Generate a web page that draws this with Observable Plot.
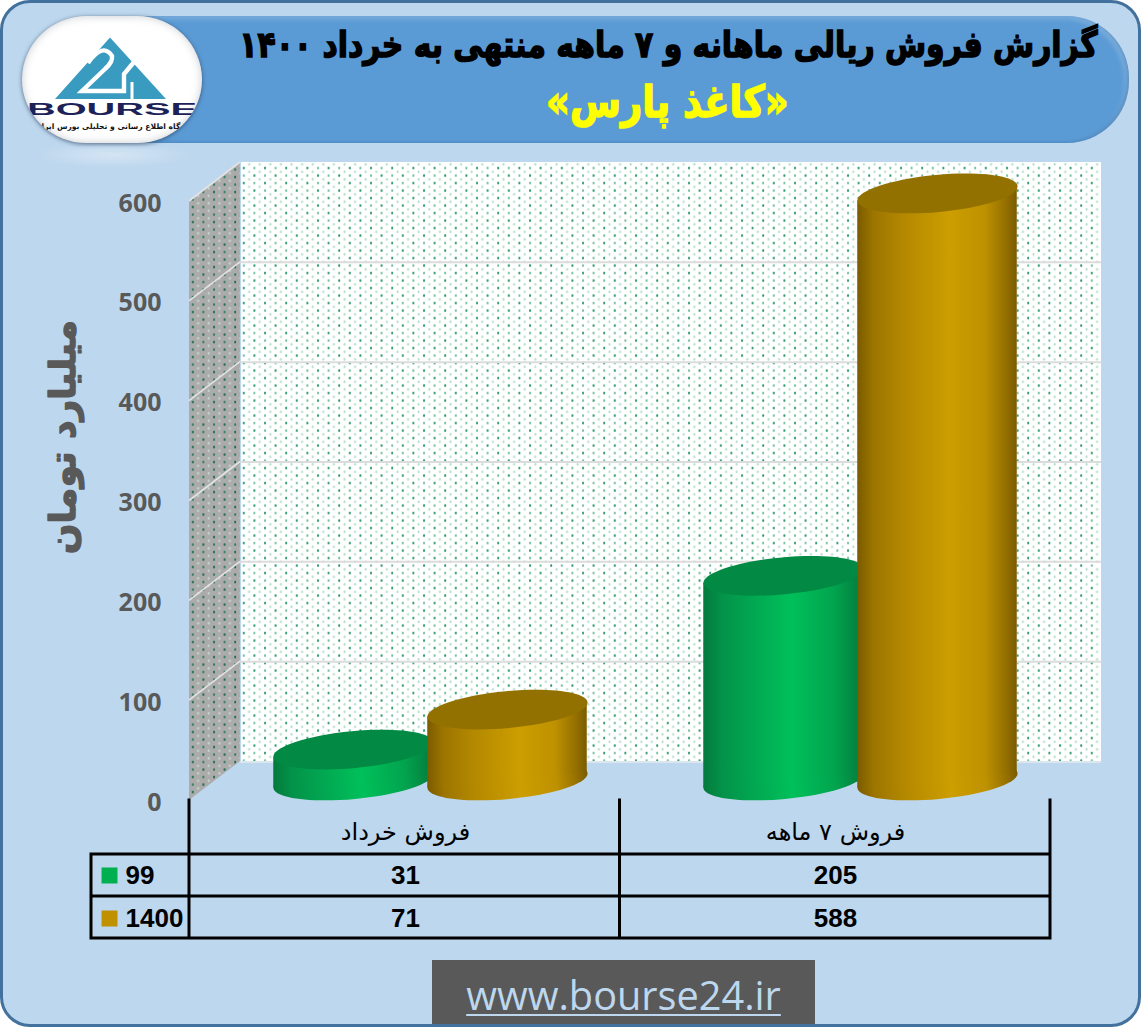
<!DOCTYPE html>
<html lang="fa">
<head>
<meta charset="utf-8">
<script src="https://cdn.jsdelivr.net/npm/d3@7"></script>
<script src="https://cdn.jsdelivr.net/npm/@observablehq/plot@0.6"></script>
<style>
html,body{margin:0;padding:0;background:#fff;}
#page{position:relative;width:1141px;height:1027px;box-sizing:border-box;background:#BDD7EE;border:3px solid #41719C;border-radius:30px;overflow:hidden;}
#band{position:absolute;left:100px;top:13px;width:1026px;height:127px;background:#5B9BD5;border-radius:0 62px 62px 0;box-shadow:inset -2px -1px 3px rgba(30,70,120,.25),inset -4px 3px 5px rgba(255,255,255,.2);}
#title{position:absolute;right:41px;top:21px;transform:scaleX(.828);transform-origin:right center;direction:rtl;font:bold 36px "DejaVu Sans";color:#000;-webkit-text-stroke:1.5px #000;white-space:nowrap;}
#subtitle{position:absolute;left:544px;top:73px;width:240px;display:flex;justify-content:center;direction:rtl;white-space:nowrap;}
#subtitle span{display:block;transform:scaleX(.84);font:bold 44px "DejaVu Sans";color:#FFFF00;-webkit-text-stroke:1.5px #FFFF00;}
#logoWrap{position:absolute;left:19px;top:13px;width:180px;height:127px;background:#fff;border-radius:36% / 50%;box-shadow:0 1px 4px rgba(40,60,90,.7),inset 0 0 8px rgba(120,130,140,.4);overflow:hidden;}
#reflect{position:absolute;left:30px;top:143px;width:160px;height:22px;background:radial-gradient(ellipse at 50% 40%,rgba(255,255,255,.35),rgba(255,255,255,0) 70%);}
#site{position:absolute;left:429px;top:957px;width:383px;height:70px;background:#595959;color:#BDD7EE;text-align:center;font:39.7px "Open Sans";line-height:70px;text-decoration:underline;text-decoration-thickness:2px;text-underline-offset:4px;}
#plotWrap{position:absolute;left:-3px;top:142px;width:1141px;}
#plotWrap svg{display:block;background:transparent;max-width:none;}
</style>
</head>
<body>
<div id="page">
  <div id="band"></div>
  <div id="title"></div>
  <div id="subtitle"><span></span></div>
  <div id="reflect"></div>
  <div id="logoWrap">
    <svg width="180" height="127" viewBox="22 16 180 127">
      <polygon points="110,37.5 166,99 55,99" fill="#3A9BC1"/>
      <path d="M88 63 Q103 42 112 56 Q113 62 105 69 L82 91 L124 91 L124 74 L134 62" fill="none" stroke="#fff" stroke-width="4.4"/>
      <path d="M132 82 V99" fill="none" stroke="#fff" stroke-width="3"/>
      <text x="112" y="115" text-anchor="middle" textLength="170" lengthAdjust="spacingAndGlyphs" font-family="Liberation Sans" font-weight="bold" font-size="16" fill="#1C2157">BOURSE</text>
      <text x="112" y="129" text-anchor="middle" direction="rtl" font-family="DejaVu Sans" font-weight="bold" font-size="7.6" fill="#111">پایگاه اطلاع رسانی و تحلیلی بورس ایران</text>
    </svg>
  </div>
  <div id="plotWrap"></div>
  <div id="site">www.bourse24.ir</div>
</div>
<script>
const titleText = "گزارش فروش ریالی ماهانه و ۷ ماهه منتهی به خرداد ۱۴۰۰";
const subtitleText = "«کاغذ پارس»";
const yTitle = "میلیارد تومان";
const categories = ["فروش خرداد", "فروش ۷ ماهه"];
const seriesNames = ["99", "1400"];
const sales99 = [31, 205];
const sales1400 = [71, 588];
const yTicks = [0, 100, 200, 300, 400, 500, 600];
const gridValues = [100, 200, 300, 400, 500];

document.getElementById("title").textContent = titleText;
document.querySelector("#subtitle span").textContent = subtitleText;

const toRows = vals => categories.map((c, i) => ({c, v: vals[i]}));
const rows99 = toRows(sales99);
const rows1400 = toRows(sales1400);

// Projection of the fake 3-D box
const depthX = 51, depthY = -39;
const midDy = depthY / 2 - 0.5;
const tilt = -5.3;
const capA = 80.4, capB = 18.5;
const ellipse = {draw(ctx) {
  const a = capA, b = capB, k = 0.5523;
  ctx.moveTo(-a, 0);
  ctx.bezierCurveTo(-a, -k * b, -k * a, -b, 0, -b);
  ctx.bezierCurveTo(k * a, -b, a, -k * b, a, 0);
  ctx.bezierCurveTo(a, k * b, k * a, b, 0, b);
  ctx.bezierCurveTo(-k * a, b, -a, k * b, -a, 0);
  ctx.closePath();
}};

const defsMark = () => {
  const stops = (id, list) => `<linearGradient id="${id}" x1="0" x2="1" y1="0" y2="0">` +
    list.map(([o, c]) => `<stop offset="${o}" stop-color="${c}"/>`).join("") + `</linearGradient>`;
  const dot = (x, y, c) => `<ellipse cx="${x}" cy="${y}" rx="1" ry="1.5" fill="${c}"/>`;
  const dots = (dark, mid, light) =>
    dot(2, 2, dark) + dot(12.6, 9.5, dark) + dot(12.6, 2, mid) + dot(2, 9.5, mid) +
    dot(7.3, 5.7, light) + dot(17.9, 13.2, light) + dot(7.3, 13.2, light) + dot(17.9, 5.7, light);
  const d = d3.create("svg:defs");
  d.html(
    stops("g99", [[0, "#047A3C"], [.12, "#03934A"], [.55, "#00C05A"], [.82, "#02A44E"], [1, "#047A3C"]]) +
    stops("g1400", [[0, "#7A5B00"], [.1, "#9C7500"], [.3, "#B58900"], [.58, "#CC9E00"], [.8, "#BE9100"], [.93, "#957000"], [1, "#7A5B00"]]) +
    `<pattern id="wall" patternUnits="userSpaceOnUse" width="21.2" height="15"><rect width="21.2" height="15" fill="#fff"/>${dots("#2A9C69", "#73C2A0", "#B8E0CE")}</pattern>` +
    `<pattern id="side" patternUnits="userSpaceOnUse" width="21.2" height="15"><rect width="21.2" height="15" fill="#ABABAB"/>${dots("#1C6E4A", "#2F7F5C", "#C5D5CC")}</pattern>`
  );
  return d.node();
};

// side wall and its grid, positioned through the y scale
const sideWall = (index, {y}, values, {marginLeft}) => {
  const x0 = marginLeft, x1 = marginLeft + depthX;
  const g = d3.create("svg:g");
  g.append("path").attr("fill", "url(#side)")
    .attr("d", `M${x0},${y(0)}L${x1},${y(0) + depthY}L${x1},${y(600) + depthY}L${x0},${y(600)}Z`);
  g.selectAll("line").data(gridValues.concat(600)).join("line")
    .attr("x1", x0).attr("x2", x1)
    .attr("y1", d => y(d)).attr("y2", d => y(d) + depthY)
    .attr("stroke", "#E3E3E3").attr("stroke-width", 1.6);
  return g.node();
};

// table grid under the plot frame
const rowGaps = [54, 96, 138];
const tableGrid = (index, {y}, values, {marginLeft, marginRight, width}) => {
  const z = y(0), l = marginLeft, r = width - marginRight, m = (l + r) / 2, far = l - 98;
  const path = [
    ...rowGaps.map(g => `M${far},${z + g}H${r}`),
    ...[l, m, r].map(x => `M${x},${z}V${z + 138}`),
    `M${far},${z + 54}V${z + 138}`
  ].join("");
  const g = d3.create("svg:path").attr("d", path).attr("fill", "none")
    .attr("stroke", "#000").attr("stroke-width", 3).attr("stroke-linecap", "square");
  return g.node();
};

const cylinder = (rows, dx, grad, cap) => [
  Plot.dot(rows, {x: "c", y: () => 0, dx, dy: midDy, r: 10, symbol: ellipse, rotate: tilt, fill: `url(#${grad})`, stroke: "none"}),
  Plot.barY(rows, {x: "c", y1: () => 0, y2: "v", dx, dy: midDy, insetLeft: 135.25, insetRight: 135.25, fill: `url(#${grad})`, className: "cyl"}),
  Plot.dot(rows, {x: "c", y: "v", dx, dy: midDy, r: 10, symbol: ellipse, rotate: tilt, fill: cap, stroke: "none"})
];

const cellFont = {fontFamily: "Liberation Sans", fontWeight: "bold", fontSize: 26, fill: "#000"};

const plot = Plot.plot({
  width: 1141,
  height: 800,
  marginTop: 56,
  marginBottom: 145,
  marginLeft: 189,
  marginRight: 91,
  style: {background: "transparent", overflow: "visible"},
  x: {type: "band", domain: categories, padding: 0},
  y: {type: "linear", domain: [0, 600]},
  marks: [
    defsMark,
    sideWall,
    Plot.barY(categories, {x: d => d, y1: () => 0, y2: () => 600, dx: depthX, dy: depthY, fill: "url(#wall)"}),
    Plot.ruleY(gridValues, {dx: depthX, dy: depthY, stroke: "#DCDCDC", strokeWidth: 2}),
    Plot.ruleY([0], {dx: depthX, dy: depthY + 0.5, stroke: "#DCE6EE", strokeWidth: 2}),
    Plot.axisY({ticks: yTicks, tickSize: 0, tickPadding: 28, dy: 2, label: null, fontFamily: "Open Sans", fontWeight: "bold", fontSize: 25, fill: "#595959"}),
    Plot.axisX({tickSize: 0, tickPadding: 22, label: null, fontFamily: "DejaVu Sans", fontSize: 24, fill: "#000"}),
    ...cylinder(rows99, -52, "g99", "#028A45"),
    ...cylinder(rows1400, 102, "g1400", "#937100"),
    tableGrid,
    Plot.text(rows99, {x: "c", y: () => 0, dy: 75, text: "v", ...cellFont}),
    Plot.text(rows1400, {x: "c", y: () => 0, dy: 118, text: "v", ...cellFont}),
    Plot.dot([seriesNames[0]], {frameAnchor: "left", y: () => 0, dx: -80, dy: 75, symbol: "square", r: 9, fill: "#00B050", stroke: "none"}),
    Plot.dot([seriesNames[1]], {frameAnchor: "left", y: () => 0, dx: -80, dy: 118, symbol: "square", r: 9, fill: "#BF9000", stroke: "none"}),
    Plot.text([seriesNames[0]], {frameAnchor: "left", y: () => 0, dx: -64, dy: 75, text: d => d, textAnchor: "start", ...cellFont}),
    Plot.text([seriesNames[1]], {frameAnchor: "left", y: () => 0, dx: -64, dy: 118, text: d => d, textAnchor: "start", ...cellFont}),
    Plot.text([yTitle], {frameAnchor: "left", y: () => 300, dx: -126, dy: -64, rotate: -90, textAnchor: "middle", text: d => d, fontFamily: "DejaVu Sans", fontWeight: "bold", fontSize: 36, fill: "#595959", stroke: "#595959", strokeWidth: 1.4})
  ]
});

// tilt the cylinder bodies so their ends follow the tilted caps
plot.querySelectorAll(".cyl rect").forEach(r => {
  const cx = +r.getAttribute("x") + +r.getAttribute("width") / 2;
  r.setAttribute("transform", `translate(${cx},0) skewY(${tilt}) translate(${-cx},0)`);
});
document.getElementById("plotWrap").appendChild(plot);
</script>
</body>
</html>
